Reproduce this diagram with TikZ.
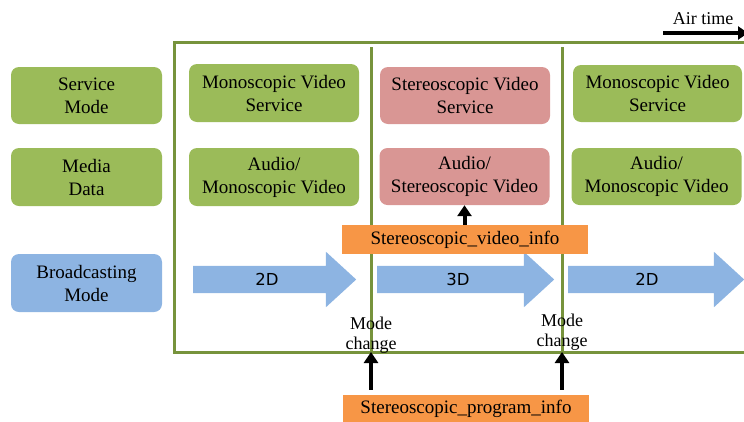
\documentclass[tikz,border=0pt]{standalone}
\usepackage{fontspec}
\setmainfont{Liberation Serif}
\newfontfamily\arrowfont{DejaVu Sans}
\usetikzlibrary{shapes.arrows,arrows.meta}
\definecolor{boxgreen}{HTML}{9BBB59}
\definecolor{framegreen}{HTML}{77933C}
\definecolor{boxpink}{HTML}{D99694}
\definecolor{boxblue}{HTML}{8DB4E2}
\definecolor{boxorange}{HTML}{F79646}
\tikzset{
  cell/.style={rounded corners=8pt, inner sep=0pt, align=center,
    font=\fontsize{19}{23}\selectfont, text=black},
  greencell/.style={cell, fill=boxgreen},
  pinkcell/.style={cell, fill=boxpink},
  bluecell/.style={cell, fill=boxblue},
  infobox/.style={fill=boxorange, inner sep=0pt, minimum width=246pt,
    font=\fontsize{19}{23}\selectfont},
  modearrow/.style={shape=single arrow, fill=boxblue, draw=none,
    inner xsep=0pt, inner ysep=13.5pt, anchor=tail,
    minimum width=55pt, single arrow head extend=14pt,
    single arrow tip angle=85, single arrow head indent=0pt},
  modetext/.style={font=\arrowfont\fontsize{16.5}{19}\selectfont},
  framestyle/.style={draw=framegreen, line width=3pt},
  blackarrow/.style={draw=black, line width=4pt, -{Triangle[width=14pt,length=11pt]}},
  smalltext/.style={align=center, inner sep=0pt, font=\fontsize{18}{20}\selectfont},
}
\begin{document}
\begin{tikzpicture}[x=1pt,y=-1pt]
\useasboundingbox (0,0) rectangle (744,421);

% frame
\draw[framestyle] (750,42) -- (174,42) -- (174,352) -- (750,352);
\coordinate (d1top) at (371,47);
\coordinate (d1bot) at (371,352);
\coordinate (d2top) at (562,47);
\coordinate (d2bot) at (562,352);
\draw[framestyle] (d1top) -- (d1bot);
\draw[framestyle] (d2top) -- (d2bot);

% air time
\node[smalltext] (air) at (703,19) {Air time};
\coordinate (airstart) at (663,33);
\coordinate (airend) at (748,33);
\draw[line width=4pt, -{Triangle[width=13pt,length=10pt]}] (airstart) -- (airend);

% left labels
\node[greencell, minimum width=151pt, minimum height=57pt] (sm) at (86.5,95.5) {Service\\Mode};
\node[greencell, minimum width=151pt, minimum height=58pt] (md) at (86.5,177) {Media\\Data};
\node[bluecell, minimum width=151pt, minimum height=58pt] (bm) at (86.5,283) {Broadcasting\\Mode};

% column 1
\node[greencell, minimum width=170pt, minimum height=58pt] (s1) at (274,93) {Monoscopic Video\\Service};
\node[greencell, minimum width=170pt, minimum height=58pt] (m1) at (274,177) {Audio/\\Monoscopic Video};
% column 2
\node[pinkcell, minimum width=170pt, minimum height=57pt] (s2) at (465,95.5) {Stereoscopic Video\\Service};
\node[pinkcell, minimum width=170pt, minimum height=57pt] (m2) at (464.5,176.5) {Audio/\\Stereoscopic Video};
% column 3
\node[greencell, minimum width=169pt, minimum height=57pt] (s3) at (657.5,93.5) {Monoscopic Video\\Service};
\node[greencell, minimum width=170pt, minimum height=57pt] (m3) at (656.5,176.5) {Audio/\\Monoscopic Video};

% broadcasting arrows
\node[modearrow, minimum height=163pt] (a1) at (193,279.5) {};
\node[modetext] (t1) at (267,279.5) {2D};
\node[modearrow, minimum height=177pt] (a2) at (377,279.5) {};
\node[modetext] (t2) at (458,279.5) {3D};
\node[modearrow, minimum height=176pt] (a3) at (568,279.5) {};
\node[modetext] (t3) at (647,279.5) {2D};

% info boxes
\node[infobox, minimum height=29pt] (vinfo) at (465,239.5) {Stereoscopic\_video\_info};
\node[infobox, minimum height=27pt] (pinfo) at (466,408.5) {Stereoscopic\_program\_info};

\draw[blackarrow] (vinfo.north -| m2.south) -- (m2.south);

% mode change
\node[smalltext] (mc1) at (371,335) {Mode\\change};
\node[smalltext] (mc2) at (562,332) {Mode\\change};
\draw[blackarrow, shorten <=5pt] (pinfo.north -| d1bot) -- (d1bot);
\draw[blackarrow, shorten <=5pt] (pinfo.north -| d2bot) -- (d2bot);
\end{tikzpicture}
\end{document}
